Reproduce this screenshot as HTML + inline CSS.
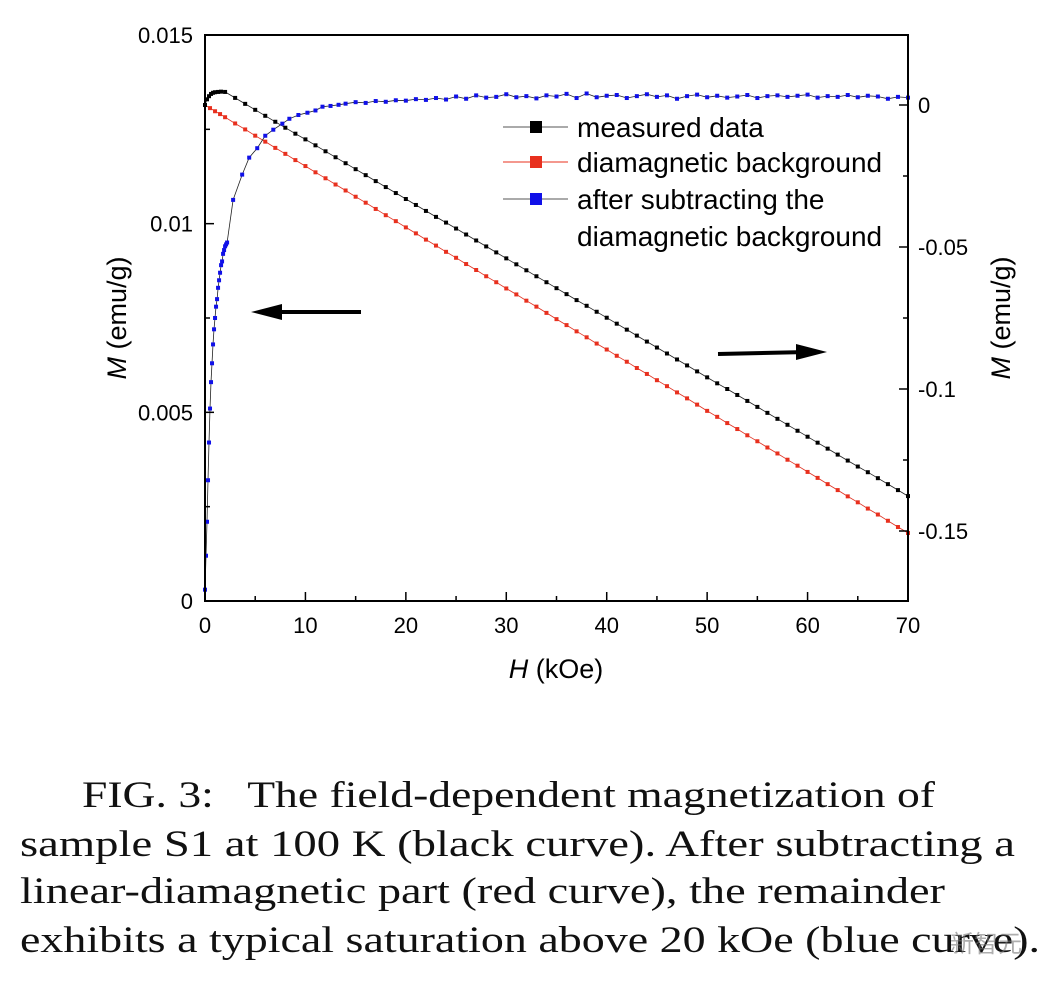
<!DOCTYPE html>
<html><head><meta charset="utf-8"><style>
body{margin:0;background:#fff;width:1060px;height:982px;overflow:hidden;position:relative;font-family:"Liberation Sans",sans-serif}
.cap{position:absolute;left:20px;font-family:"Liberation Serif",serif;font-size:37px;color:#111;white-space:nowrap;transform-origin:0 0}
</style></head><body>
<svg id="chart" width="1060" height="740" style="position:absolute;left:0;top:0" font-family="Liberation Sans, sans-serif"></svg>
<div class="cap" data-w="853" style="top:774px;left:82px">FIG. 3:&nbsp;&nbsp; The field-dependent magnetization of</div>
<div class="cap" data-w="995" style="top:823px">sample S1 at 100 K (black curve). After subtracting a</div>
<div class="cap" data-w="925" style="top:870px">linear-diamagnetic part (red curve), the remainder</div>
<div class="cap" data-w="1020" style="top:919px">exhibits a typical saturation above 20 kOe (blue curve).</div>
<div style="position:absolute;left:950px;top:924px;font-size:24px;color:rgba(120,120,120,0.6);font-family:'Liberation Sans','Noto Sans CJK SC',sans-serif">新智元</div>
<script>
const blackH=[0,0.2,0.4,0.6,0.8,1.0,1.3,1.6,2,3,4,5,6,7,8,9,10,11,12,13,14,15,16,17,18,19,20,21,22,23,24,25,26,27,28,29,30,31,32,33,34,35,36,37,38,39,40,41,42,43,44,45,46,47,48,49,50,51,52,53,54,55,56,57,58,59,60,61,62,63,64,65,66,67,68,69,70];
const blackM=[0,0.0020,0.0031,0.0039,0.0043,0.0045,0.0046,0.0047,0.0046,0.0025,0.0004,-0.0017,-0.0038,-0.0059,-0.0080,-0.0101,-0.0121,-0.0142,-0.0163,-0.0184,-0.0205,-0.0226,-0.0247,-0.0268,-0.0289,-0.0310,-0.0331,-0.0352,-0.0373,-0.0394,-0.0414,-0.0435,-0.0456,-0.0477,-0.0498,-0.0519,-0.0540,-0.0561,-0.0582,-0.0603,-0.0624,-0.0645,-0.0666,-0.0687,-0.0707,-0.0728,-0.0749,-0.0770,-0.0791,-0.0812,-0.0833,-0.0854,-0.0875,-0.0896,-0.0917,-0.0938,-0.0959,-0.0980,-0.1000,-0.1021,-0.1042,-0.1063,-0.1084,-0.1105,-0.1126,-0.1147,-0.1168,-0.1189,-0.1210,-0.1231,-0.1252,-0.1273,-0.1293,-0.1314,-0.1335,-0.1356,-0.1377];
const redH=[0,0.5,1,1.5,2,3,4,5,6,7,8,9,10,11,12,13,14,15,16,17,18,19,20,21,22,23,24,25,26,27,28,29,30,31,32,33,34,35,36,37,38,39,40,41,42,43,44,45,46,47,48,49,50,51,52,53,54,55,56,57,58,59,60,61,62,63,64,65,66,67,68,69,70];
const redM=[0,-0.0011,-0.0022,-0.0032,-0.0043,-0.0065,-0.0086,-0.0108,-0.0129,-0.0151,-0.0172,-0.0194,-0.0215,-0.0237,-0.0258,-0.0280,-0.0301,-0.0323,-0.0344,-0.0366,-0.0388,-0.0409,-0.0431,-0.0452,-0.0474,-0.0495,-0.0517,-0.0538,-0.0560,-0.0581,-0.0603,-0.0624,-0.0646,-0.0667,-0.0689,-0.0710,-0.0732,-0.0754,-0.0775,-0.0797,-0.0818,-0.0840,-0.0861,-0.0883,-0.0904,-0.0926,-0.0947,-0.0969,-0.0990,-0.1012,-0.1033,-0.1055,-0.1077,-0.1098,-0.1120,-0.1141,-0.1163,-0.1184,-0.1206,-0.1227,-0.1249,-0.1270,-0.1292,-0.1313,-0.1335,-0.1356,-0.1378,-0.1399,-0.1421,-0.1442,-0.1464,-0.1486,-0.1507];
const blueH=[0,0.1,0.2,0.3,0.4,0.5,0.6,0.7,0.8,0.9,1.0,1.1,1.2,1.3,1.4,1.5,1.6,1.7,1.8,1.9,2.0,2.1,2.2,2.8,3.7,4.4,5.2,6.0,6.8,7.7,8.4,9.3,10.2,11.0,11.7,12.5,13.3,14,15,16,17,18,19,20,21,22,23,24,25,26,27,28,29,30,31,32,33,34,35,36,37,38,39,40,41,42,43,44,45,46,47,48,49,50,51,52,53,54,55,56,57,58,59,60,61,62,63,64,65,66,67,68,69,70];
const blueM=[0.0003,0.0012,0.0021,0.0032,0.0042,0.0051,0.0058,0.0063,0.0068,0.0072,0.0075,0.0078,0.0080,0.0083,0.0085,0.0087,0.0089,0.0090,0.0092,0.0093,0.0094,0.00945,0.0095,0.01063,0.0113,0.01175,0.0120,0.01233,0.01249,0.01265,0.01278,0.01288,0.01294,0.0130,0.0131,0.01312,0.01315,0.01318,0.01322,0.01320,0.01325,0.01323,0.01327,0.01326,0.01330,0.01328,0.01333,0.01329,0.01337,0.01331,0.01340,0.01334,0.01336,0.01343,0.01335,0.01338,0.01332,0.01340,0.01337,0.01344,0.01333,0.01345,0.01335,0.01339,0.01341,0.01333,0.01338,0.01343,0.01336,0.01340,0.01331,0.01338,0.01342,0.01335,0.01339,0.01334,0.01337,0.01341,0.01333,0.01338,0.01340,0.01336,0.01339,0.01342,0.01334,0.01338,0.01336,0.01341,0.01335,0.01339,0.01337,0.01331,0.01336,0.01334];
const xTicks=[0,10,20,30,40,50,60,70];
const leftTicks=[0,0.005,0.01,0.015];
const leftTickLabels=["0","0.005","0.01","0.015"];
const rightTicks=[0,-0.05,-0.1,-0.15];
const rightTickLabels=["0","-0.05","-0.1","-0.15"];

const NS="http://www.w3.org/2000/svg";
const svg=document.getElementById('chart');
const X0=205,X1=908,Y0=35,Y1=601;
const xs=h=>X0+(h/70)*(X1-X0);
const yl=v=>Y1-(v/0.015)*(Y1-Y0);
const yr=v=>105-(v/0.05)*142;
function mk(tag,attrs,parent){const e=document.createElementNS(NS,tag);for(const k in attrs)e.setAttribute(k,attrs[k]);(parent||svg).appendChild(e);return e;}
function series(H,M,ys,color,name,sz){
  const g=mk('g',{});
  
  
  const pts=H.map((h,i)=>xs(h).toFixed(1)+','+ys(M[i]).toFixed(1)).join(' ');
  const pl=mk('polyline',{points:pts,fill:'none',stroke:name==='red-series'?'#e03020':'#222','stroke-width':0.8},g);
  
  
  H.forEach((h,i)=>{
    const r=mk('rect',{x:xs(h)-sz/2,y:ys(M[i])-sz/2,width:sz,height:sz,fill:color},g);
    
    
  });
}
series(redH,redM,yr,'#e8301e','red-series',4);
series(blackH,blackM,yr,'#000','black-series',4);
series(blueH,blueM,yl,'#1010e8','blue-series',4);

const fr=mk('rect',{x:X0,y:Y0,width:X1-X0,height:Y1-Y0,fill:'none',stroke:'#000','stroke-width':2});


for(let h=0;h<=70;h+=5){
  const major=h%10===0;
  const t=mk('line',{x1:xs(h),x2:xs(h),y1:Y1,y2:Y1-(major?9:5),stroke:'#000','stroke-width':1.5});
  
  
}
xTicks.forEach(h=>{
  const t=mk('text',{x:xs(h),y:Y1+32,'text-anchor':'middle','font-size':22});
  t.textContent=h;
  
  
});
for(let v=0;v<=0.0151;v+=0.0025){
  const major=Math.abs(v/0.005-Math.round(v/0.005))<1e-6;
  const t=mk('line',{x1:X0,x2:X0+(major?9:5),y1:yl(v),y2:yl(v),stroke:'#000','stroke-width':1.5});
  
  
}
leftTicks.forEach((v,i)=>{
  const t=mk('text',{x:X0-12,y:yl(v)+8,'text-anchor':'end','font-size':22});
  t.textContent=leftTickLabels[i];
  
  
});
for(let v=0.0;v>=-0.17;v-=0.025){
  const major=Math.abs(v/0.05-Math.round(v/0.05))<1e-6;
  const t=mk('line',{x1:X1,x2:X1-(major?9:5),y1:yr(v),y2:yr(v),stroke:'#000','stroke-width':1.5});
  
  
}
rightTicks.forEach((v,i)=>{
  const t=mk('text',{x:X1+10,y:yr(v)+8,'font-size':22});
  t.textContent=rightTickLabels[i];
  
  
});
let t=mk('text',{x:556,y:678,'text-anchor':'middle','font-size':27});
t.innerHTML='<tspan font-style="italic">H</tspan> (kOe)';


t=mk('text',{x:0,y:0,'text-anchor':'middle','font-size':27,transform:'translate(126,318) rotate(-90)'});
t.innerHTML='<tspan font-style="italic">M</tspan> (emu/g)';


t=mk('text',{x:0,y:0,'text-anchor':'middle','font-size':27,transform:'translate(1010,318) rotate(-90)'});
t.innerHTML='<tspan font-style="italic">M</tspan> (emu/g)';


let a=mk('g',{});


mk('line',{x1:361,y1:312,x2:270,y2:312,stroke:'#000','stroke-width':4},a);
mk('polygon',{points:'251,312 282,304 282,320',fill:'#000'},a);
a=mk('g',{});


mk('line',{x1:718,y1:354,x2:808,y2:352,stroke:'#000','stroke-width':4},a);
mk('polygon',{points:'827,352 796,344 796,360',fill:'#000'},a);
const leg=[['measured data','#000','#555',127],['diamagnetic background','#e8301e','#e8301e',162],['after subtracting the','#1010e8','#555',199]];
leg.forEach(l=>{
  const g=mk('g',{});
  
  
  mk('line',{x1:503,x2:568,y1:l[3],y2:l[3],stroke:l[2],'stroke-width':1},g);
  mk('rect',{x:530,y:l[3]-6,width:12,height:12,fill:l[1]},g);
  const tx=mk('text',{x:577,y:l[3]+10,'font-size':28},g);
  tx.textContent=l[0];
});
t=mk('text',{x:577,y:246,'font-size':28});
t.textContent='diamagnetic background';



document.querySelectorAll('.cap').forEach(el=>{
  const w=el.getBoundingClientRect().width;
  el.style.transform='scaleX('+(parseFloat(el.dataset.w)/w)+')';
});
</script>
</body></html>
